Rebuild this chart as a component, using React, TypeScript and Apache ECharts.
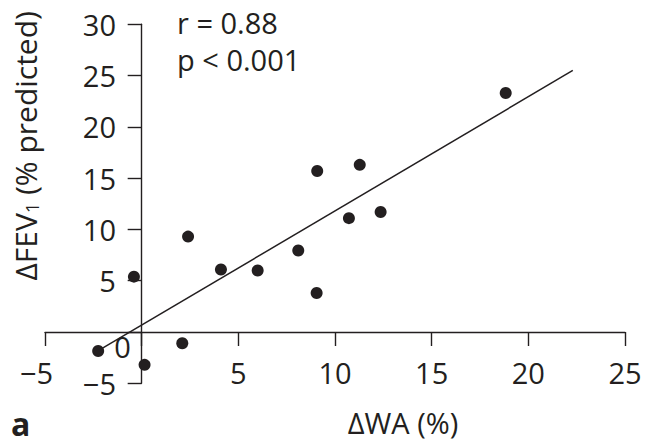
import React, { useEffect, useRef } from 'react';
import * as echarts from 'echarts';

// ΔWA (%) and ΔFEV1 (% predicted) for each subject
const waChange = [-2.25, -0.4, 0.15, 2.1, 2.4, 4.1, 6.0, 8.1, 9.05, 9.08, 10.72, 11.28, 12.36, 18.83];
const fevChange = [-1.85, 5.4, -3.2, -1.1, 9.3, 6.1, 6.0, 7.95, 3.8, 15.7, 11.1, 16.3, 11.7, 23.3];

// regression line end points
const fitX = [-2.2, 22.3];
const fitY = [-1.77, 25.5];

const xRange = [-5, 25];
const yRange = [-5, 30];
const tickStep = 5;

const statLines = ['r = 0.88', 'p < 0.001'];
const xName = 'ΔWA (%)';
const yNameParts = ['ΔFEV', '1', ' (% predicted)'];
const panelLabel = 'a';

const INK = '#231f20';
const FONT = '"Open Sans", sans-serif';
const FS = 29;

const GRID = { left: 45, right: 24, top: 24.3, bottom: 61.7 };
const W = 649;
const H = 445;

const fmt = (v: number) => (v < 0 ? '\u2212' + Math.abs(v) : String(v));

export default function App() {
  const ref = useRef<HTMLDivElement>(null);
  useEffect(() => {
    const chart = echarts.init(ref.current!, null, { renderer: 'svg' });
    const gw = W - GRID.left - GRID.right;
    const gh = H - GRID.top - GRID.bottom;
    // move each axis onto the zero of the other one
    const yAxisOffset = -((0 - xRange[0]) / (xRange[1] - xRange[0])) * gw;
    const xAxisOffset = -((0 - yRange[0]) / (yRange[1] - yRange[0])) * gh;
    chart.setOption({
      animation: false,
      grid: { ...GRID, containLabel: false, outerBoundsMode: 'none' },
      xAxis: {
        type: 'value',
        min: xRange[0],
        max: xRange[1],
        interval: tickStep,
        offset: xAxisOffset,
        splitLine: { show: false },
        axisLine: { onZero: false, lineStyle: { color: INK, width: 1.4 } },
        axisTick: { show: true, length: 14, lineStyle: { color: INK, width: 1.4 } },
        axisLabel: {
          margin: 26,
          color: INK,
          fontSize: FS,
          fontFamily: FONT,
          formatter: (v: number) =>
            v === 0 ? '' : v < 0 ? `{n|${fmt(v)}}{sp|}` : `{n|${fmt(v)}}`,
          rich: {
            n: { fontSize: FS, fontFamily: FONT, color: INK },
            sp: { width: 17 },
          },
        },
        name: xName,
        nameLocation: 'middle',
        nameGap: 76,
        nameTextStyle: { color: INK, fontSize: FS, fontFamily: FONT, padding: [0, 0, 0, 136] },
      },
      yAxis: {
        type: 'value',
        min: yRange[0],
        max: yRange[1],
        interval: tickStep,
        offset: yAxisOffset,
        splitLine: { show: false },
        axisLine: { onZero: false, lineStyle: { color: INK, width: 1.4 } },
        axisTick: { show: true, length: 14, lineStyle: { color: INK, width: 1.4 } },
        axisLabel: {
          margin: 10.7,
          color: INK,
          fontSize: FS,
          fontFamily: FONT,
          formatter: (v: number) => (v === 0 ? `{z|0}` : `{n|${fmt(v)}}{sp|}`),
          rich: {
            n: { fontSize: FS, fontFamily: FONT, color: INK },
            z: { fontSize: FS, fontFamily: FONT, color: INK, padding: [29, 0, 0, 0] },
            sp: { width: 15 },
          },
        },
        name: `{a|${yNameParts[0]}}{s|${yNameParts[1]}}{a|${yNameParts[2]}}`,
        nameLocation: 'middle',
        nameRotate: 90,
        nameGap: 101,
        nameTextStyle: {
          padding: [0, 0, 0, 116],
          rich: {
            a: { fontSize: 30, fontFamily: FONT, color: INK },
            s: { fontSize: 18, fontFamily: FONT, color: INK, lineHeight: 10, verticalAlign: 'bottom' },
          },
        },
      },
      graphic: [
        {
          type: 'text',
          left: 177,
          top: 8,
          style: { text: statLines[0], fill: INK, fontSize: FS, fontFamily: FONT },
        },
        {
          type: 'text',
          left: 177,
          top: 45,
          style: { text: statLines[1], fill: INK, fontSize: FS, fontFamily: FONT },
        },
        {
          type: 'text',
          left: 11,
          top: 406,
          style: {
            text: panelLabel,
            fill: INK,
            fontSize: 32,
            lineHeight: 34,
            fontWeight: 'bold',
            fontFamily: FONT,
          },
        },
      ],
      series: [
        {
          type: 'line',
          data: fitX.map((x, i) => [x, fitY[i]]),
          showSymbol: false,
          symbol: 'none',
          lineStyle: { color: INK, width: 1.5 },
          silent: true,
        },
        {
          type: 'scatter',
          data: waChange.map((x, i) => [x, fevChange[i]]),
          symbol: 'circle',
          symbolSize: 12,
          itemStyle: { color: INK, opacity: 1 },
        },
      ],
    });
    return () => chart.dispose();
  }, []);
  return (
    <div
      ref={ref}
      style={{ position: 'fixed', left: 0, top: 0, width: W, height: H, background: '#fff' }}
    />
  );
}
